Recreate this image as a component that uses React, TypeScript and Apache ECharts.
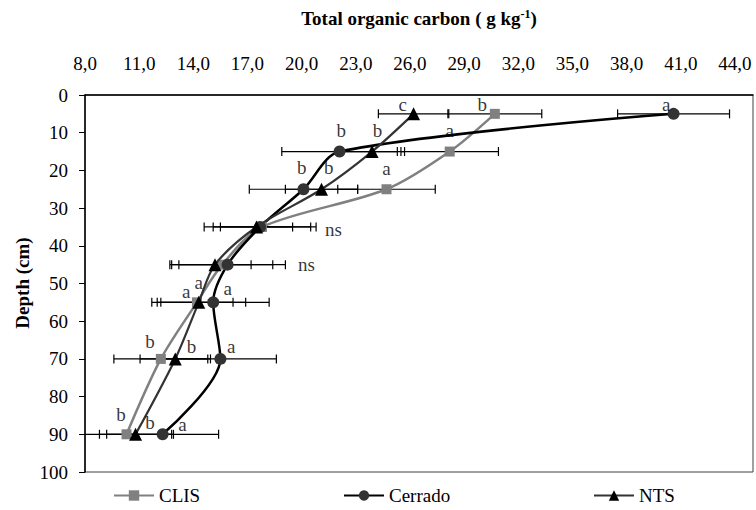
import React, { useEffect, useRef } from "react";
import * as echarts from "echarts";

const DEPTHS = [5, 15, 25, 35, 45, 55, 70, 90];
const CLIS = [30.7, 28.2, 24.7, 17.8, 15.6, 14.2, 12.2, 10.3];
const CLIS_ERR = [2.6, 2.7, 2.7, 2.7, 2.8, 2.0, 2.6, 2.6];
const CERRADO = [40.6, 22.1, 20.1, 17.7, 15.9, 15.1, 15.5, 12.3];
const CERRADO_ERR = [3.1, 3.2, 3.0, 3.1, 3.2, 3.1, 3.1, 3.1];
const NTS = [26.2, 23.9, 21.1, 17.5, 15.2, 14.3, 13.0, 10.8];
const NTS_ERR = [1.95, 1.8, 2.0, 2.0, 2.0, 2.6, 1.95, 2.0];

// letters: [x value, depth, text, align]
const LETTERS: [number, number, string, string][] = [
  [25.6, 2.6, "c", "center"],
  [30.0, 2.6, "b", "center"],
  [40.2, 2.4, "a", "center"],
  [22.2, 9.3, "b", "center"],
  [24.2, 9.3, "b", "center"],
  [28.2, 9.3, "a", "center"],
  [20.0, 19.3, "b", "center"],
  [21.5, 19.3, "b", "center"],
  [24.7, 19.5, "a", "center"],
  [21.3, 35.6, "ns", "left"],
  [19.8, 45.0, "ns", "left"],
  [13.6, 52.0, "a", "center"],
  [14.3, 49.8, "a", "center"],
  [15.9, 51.4, "a", "center"],
  [11.6, 65.3, "b", "center"],
  [13.9, 66.7, "b", "center"],
  [16.1, 66.7, "a", "center"],
  [10.0, 84.8, "b", "center"],
  [11.6, 87.0, "b", "center"],
  [13.4, 87.5, "a", "center"],
];

const X_MIN = 8;
const X_MAX = 45;
const X_STEP = 3;
const FONT = "Liberation Serif, Times New Roman, serif";

function errSeries(vals: number[], errs: number[]) {
  return {
    type: "custom",
    z: 1,
    silent: true,
    data: vals.map((v, i) => [v, DEPTHS[i], errs[i]]),
    renderItem: (params: any, api: any) => {
      const x = api.value(0);
      const y = api.value(1);
      const e = api.value(2);
      const lo = Math.max(X_MIN, x - e);
      const hi = x + e;
      const p1 = api.coord([lo, y]);
      const p2 = api.coord([hi, y]);
      const h = 4.5;
      const st = { stroke: "#000", lineWidth: 1.2 };
      const children: any[] = [
        { type: "line", shape: { x1: p1[0], y1: p1[1], x2: p2[0], y2: p2[1] }, style: st },
        { type: "line", shape: { x1: p2[0], y1: p2[1] - h, x2: p2[0], y2: p2[1] + h }, style: st },
      ];
      if (x - e >= X_MIN) {
        children.push({ type: "line", shape: { x1: p1[0], y1: p1[1] - h, x2: p1[0], y2: p1[1] + h }, style: st });
      }
      return { type: "group", children };
    },
  };
}

export default function App() {
  const ref = useRef<HTMLDivElement>(null);
  useEffect(() => {
    const chart = echarts.init(ref.current!, null, { renderer: "svg" });
    const legendBase = {
      top: 486,
      padding: 0,
      itemWidth: 40,
      itemHeight: 13,
      textStyle: { fontFamily: FONT, fontSize: 19, color: "#000" },
      selectedMode: false,
    };
    chart.setOption({
      animation: false,
      textStyle: { fontFamily: FONT },
      grid: {
        left: 85,
        right: 3,
        top: 95,
        bottom: 38,
        show: true,
        borderColor: "#404040",
        borderWidth: 1,
      },
      graphic: [
        {
          type: "text",
          x: 419,
          y: 18,
          style: {
            text: "{b|Total organic carbon ( g kg}{s|-1}{b|)}",
            align: "center",
            verticalAlign: "middle",
            rich: {
              b: { fontFamily: FONT, fontSize: 19, fontWeight: "bold", fill: "#000" },
              s: { fontFamily: FONT, fontSize: 12, fontWeight: "bold", fill: "#000", verticalAlign: "top", padding: [0, 0, 8, 0] },
            },
          },
        },
        {
          type: "text",
          x: 22,
          y: 283,
          rotation: Math.PI / 2,
          style: {
            text: "Depth (cm)",
            align: "center",
            verticalAlign: "middle",
            fontFamily: FONT,
            fontSize: 19,
            fontWeight: "bold",
            fill: "#000",
          },
        },
      ],
      legend: [
        { ...legendBase, left: 113, data: ["CLIS"] },
        { ...legendBase, left: 343, data: ["Cerrado"] },
        { ...legendBase, left: 593, data: ["NTS"] },
      ],
      xAxis: {
        type: "value",
        position: "top",
        min: X_MIN,
        max: X_MAX,
        interval: X_STEP,
        splitLine: { show: false },
        axisTick: { show: false },
        axisLine: { show: true, lineStyle: { color: "#000", width: 1.5 } },
        axisLabel: {
          margin: 22,
          fontFamily: FONT,
          fontSize: 19,
          color: "#000",
          showMaxLabel: false,
          formatter: (v: number) => (v > 44 ? "" : v.toFixed(1).replace(".", ",")),
        },
      },
      yAxis: {
        type: "value",
        inverse: true,
        min: 0,
        max: 100,
        interval: 10,
        splitLine: { show: false },
        axisTick: { show: true, inside: false, length: 6, lineStyle: { color: "#000" } },
        axisLine: { show: true, lineStyle: { color: "#000", width: 1.5 } },
        axisLabel: { margin: 17, fontFamily: FONT, fontSize: 19, color: "#000" },
      },
      series: [
        errSeries(CLIS, CLIS_ERR),
        errSeries(CERRADO, CERRADO_ERR),
        errSeries(NTS, NTS_ERR),
        {
          name: "CLIS",
          type: "line",
          z: 3,
          smooth: 0.3,
          data: CLIS.map((v, i) => [v, DEPTHS[i]]),
          symbol: "rect",
          symbolSize: 10,
          lineStyle: { color: "#808080", width: 2.5 },
          itemStyle: { color: "#808080" },
        },
        {
          name: "Cerrado",
          type: "line",
          z: 3,
          smooth: 0.3,
          data: CERRADO.map((v, i) => [v, DEPTHS[i]]),
          symbol: "circle",
          symbolSize: 12,
          lineStyle: { color: "#000", width: 2.5 },
          itemStyle: { color: "#333" },
        },
        {
          name: "NTS",
          type: "line",
          z: 4,
          smooth: 0.3,
          data: NTS.map((v, i) => [v, DEPTHS[i]]),
          symbol: "triangle",
          symbolSize: 13,
          lineStyle: { color: "#333", width: 2.2 },
          itemStyle: { color: "#000" },
        },
        {
          type: "scatter",
          z: 5,
          silent: true,
          symbolSize: 0,
          data: LETTERS.map((l) => ({
            value: [l[0], l[1]],
            label: {
              show: true,
              position: "inside",
              align: l[3],
              formatter: l[2],
              fontFamily: FONT,
              fontSize: 19,
              color: "#000",
            },
          })),
        },
      ],
    });
    return () => chart.dispose();
  }, []);
  return (
    <div
      ref={ref}
      style={{ position: "absolute", left: 0, top: 0, width: 756, height: 510, background: "#fff" }}
    />
  );
}
